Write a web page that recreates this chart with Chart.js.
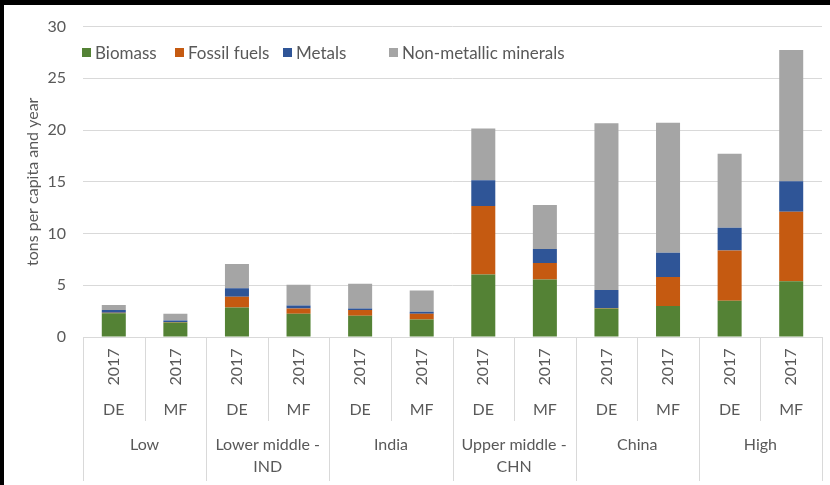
<!DOCTYPE html>
<html>
<head>
<meta charset="utf-8">
<script src="https://cdn.jsdelivr.net/npm/chart.js@4.4.0/dist/chart.umd.min.js"></script>
<style>
  html, body { margin: 0; padding: 0; background: #fff; }
  #wrap { position: relative; width: 830px; height: 485px; overflow: hidden; }
  #chart { position: absolute; left: 0; top: 0; }
  .frameTop { position: absolute; left: 0; top: 0; width: 830px; height: 5px; background: #000; }
  .frameLeft { position: absolute; left: 0; top: 0; width: 4px; height: 485px; background: #000; }
  #legend { position: absolute; top: 42px; left: 0; font-family: Lato, sans-serif; font-size: 17px; color: #595959; }
  .li { position: absolute; white-space: nowrap; display: flex; align-items: center; }
  .sw { width: 9px; height: 9px; margin-right: 4px; display: inline-block; }
</style>
</head>
<body>
<div id="wrap">
  <canvas id="chart" width="830" height="485"></canvas>
  <div id="legend"></div>
  <div class="frameTop"></div>
  <div class="frameLeft"></div>
</div>
<script>
// ---- Data ----
const subLabels = ["DE","MF","DE","MF","DE","MF","DE","MF","DE","MF","DE","MF"];
const yearLabels = ["2017","2017","2017","2017","2017","2017","2017","2017","2017","2017","2017","2017"];
const groupLabels = ["Low", ["Lower middle -","IND"], "India", ["Upper middle -","CHN"], "China", "High"];
const seriesNames = ["Biomass","Fossil fuels","Metals","Non-metallic minerals"];
const biomass   = [2.3, 1.4, 2.85, 2.25, 2.05, 1.7, 6.05, 5.55, 2.75, 3.0, 3.5, 5.4];
const fossil    = [0.05, 0.05, 1.05, 0.5, 0.55, 0.55, 6.6, 1.6, 0.05, 2.8, 4.85, 6.7];
const metals    = [0.25, 0.15, 0.8, 0.3, 0.15, 0.2, 2.5, 1.35, 1.75, 2.35, 2.2, 2.95];
const nonmet    = [0.5, 0.65, 2.35, 2.0, 2.4, 2.05, 5.0, 4.25, 16.1, 12.55, 7.15, 12.7];
const yTicks    = [0, 5, 10, 15, 20, 25, 30];
const colors    = ["#548235", "#C55A11", "#2F5597", "#A5A5A5"];

const TXT = "#595959";
const GRID = "#D9D9D9";
const FONT = "Lato, sans-serif";

const multiAxis = {
  id: 'multiAxis',
  afterDraw(chart) {
    const { ctx, chartArea, scales: { x } } = chart;
    const n = subLabels.length;
    const w = (x.right - x.left) / n;
    ctx.save();
    ctx.strokeStyle = GRID;
    ctx.lineWidth = 1;
    for (let i = 0; i <= n; i++) {
      const bx = Math.round(x.left + i * w) + 0.5;
      const yEnd = (i % 2 === 0) ? 481 : 421;
      ctx.beginPath();
      ctx.moveTo(bx, chartArea.bottom);
      ctx.lineTo(bx, yEnd);
      ctx.stroke();
    }
    ctx.fillStyle = TXT;
    ctx.textAlign = 'center';
    ctx.textBaseline = 'middle';
    ctx.font = "16px " + FONT;
    for (let i = 0; i < n; i++) {
      const px = x.getPixelForValue(i);
      ctx.save();
      ctx.translate(px, 367);
      ctx.rotate(-Math.PI / 2);
      ctx.fillText(yearLabels[i], 0, 0);
      ctx.restore();
      ctx.fillText(subLabels[i], px, 410);
    }
    groupLabels.forEach((g, gi) => {
      const px = (x.getPixelForValue(gi * 2) + x.getPixelForValue(gi * 2 + 1)) / 2;
      const lines = Array.isArray(g) ? g : [g];
      lines.forEach((t, li) => ctx.fillText(t, px, 445 + li * 22));
    });
    ctx.restore();
  }
};

const data = [biomass, fossil, metals, nonmet];
new Chart(document.getElementById('chart'), {
  type: 'bar',
  data: {
    labels: subLabels,
    datasets: seriesNames.map((name, i) => ({
      label: name,
      data: data[i],
      backgroundColor: colors[i],
      borderWidth: 0,
      categoryPercentage: 1,
      barPercentage: 0.39
    }))
  },
  options: {
    responsive: false,
    animation: false,
    layout: { padding: { top: 26, right: 8, left: 0, bottom: 0 } },
    plugins: { legend: { display: false }, tooltip: { enabled: false } },
    scales: {
      x: {
        stacked: true,
        grid: { display: false },
        border: { display: false },
        ticks: { display: false },
        afterFit: (s) => { s.height = 148; }
      },
      y: {
        stacked: true,
        min: 0, max: 30,
        afterBuildTicks: (s) => { s.ticks = yTicks.map(v => ({ value: v })); },
        grid: { color: GRID, drawTicks: false, lineWidth: 1 },
        border: { display: false },
        ticks: { color: TXT, font: { family: FONT, size: 16 }, padding: 17 },
        title: { display: true, text: "tons per capita and year", color: TXT, font: { family: FONT, size: 16 }, padding: { top: 23, bottom: 0 } },
        afterFit: (s) => { s.width = 83; }
      }
    }
  },
  plugins: [multiAxis]
});

// HTML legend
const legendX = [82, 175, 283, 389];
const lg = document.getElementById('legend');
seriesNames.forEach((name, i) => {
  const d = document.createElement('div');
  d.className = 'li';
  d.style.left = legendX[i] + 'px';
  d.innerHTML = '<span class="sw" style="background:' + colors[i] + '"></span><span>' + name + '</span>';
  lg.appendChild(d);
});
</script>
</body>
</html>
